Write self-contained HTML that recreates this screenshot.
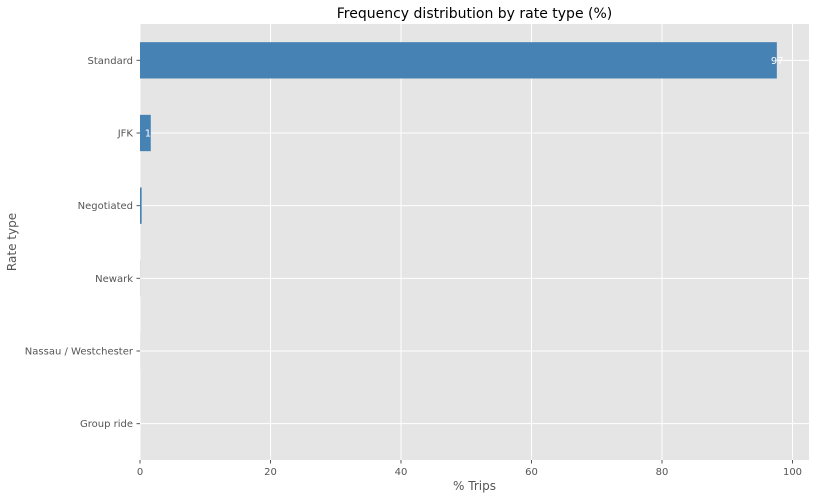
<!DOCTYPE html>
<html><head><meta charset="utf-8"><style>
body{margin:0;background:#fff;font-family:"DejaVu Sans","Liberation Sans",sans-serif}
</style></head><body>
<svg id="c" width="816" height="500" xmlns="http://www.w3.org/2000/svg" font-family="DejaVu Sans, Liberation Sans, sans-serif"></svg>
<script>
const categories=["Standard","JFK","Negotiated","Newark","Nassau / Westchester","Group ride"];
const values=[97.6,1.65,0.25,0.02,0.01,0.0];
const labels=["97","1","","","",""];
const ticks=[0,20,40,60,80,100];
const svg=document.getElementById('c');
const NS="http://www.w3.org/2000/svg";
const L=140,R=809,T=24,B=460;
const x=v=>L+v*6.525;
const band=(B-T)/categories.length;
const y=i=>T+band*(i+0.5);
function mk(t,a,p){const e=document.createElementNS(NS,t);for(const k in a)e.setAttribute(k,a[k]);(p||svg).appendChild(e);return e;}
const bg=mk('rect',{x:L,y:T,width:R-L,height:B-T,fill:'#e5e5e5'});


ticks.forEach(t=>{
 const g=mk('line',{x1:x(t),x2:x(t),y1:T,y2:B,stroke:'#fff','stroke-width':1});
 
 
 mk('line',{x1:x(t),x2:x(t),y1:B,y2:B+3.5,stroke:'#555'});
 const tx=mk('text',{x:x(t),y:B+15,'font-size':10,fill:'#555','text-anchor':'middle'});
 tx.textContent=t;
 
 
});
categories.forEach((c,i)=>{
 const g=mk('line',{x1:L,x2:R,y1:y(i),y2:y(i),stroke:'#fff','stroke-width':1});
 
 
 mk('line',{x1:L-3.5,x2:L,y1:y(i),y2:y(i),stroke:'#555'});
 const tx=mk('text',{x:L-7,y:y(i)+3.5,'font-size':10,fill:'#555','text-anchor':'end'});
 tx.textContent=c;
 
 
});
categories.forEach((c,i)=>{
 const h=band*0.5;
 const b=mk('rect',{x:L,y:y(i)-h/2,width:Math.max(0,x(values[i])-L),height:h,fill:'#4682b4'});
 
 
 if(labels[i]){
  const t=mk('text',{x:x(values[i])-6,y:y(i)+3.5,'font-size':10,fill:'#fff'});
  t.textContent=labels[i];
  
  
 }
});
const ti=mk('text',{x:(L+R)/2,y:18,'font-size':14,fill:'#000','text-anchor':'middle'});
ti.textContent="Frequency distribution by rate type (%)";


const xt=mk('text',{x:(L+R)/2,y:490,'font-size':12,fill:'#555','text-anchor':'middle'});
xt.textContent="% Trips";


const yt=mk('text',{x:0,y:0,'font-size':12,fill:'#555','text-anchor':'middle',transform:`translate(16,${(T+B)/2}) rotate(-90)`});
yt.textContent="Rate type";


</script>
</body></html>
